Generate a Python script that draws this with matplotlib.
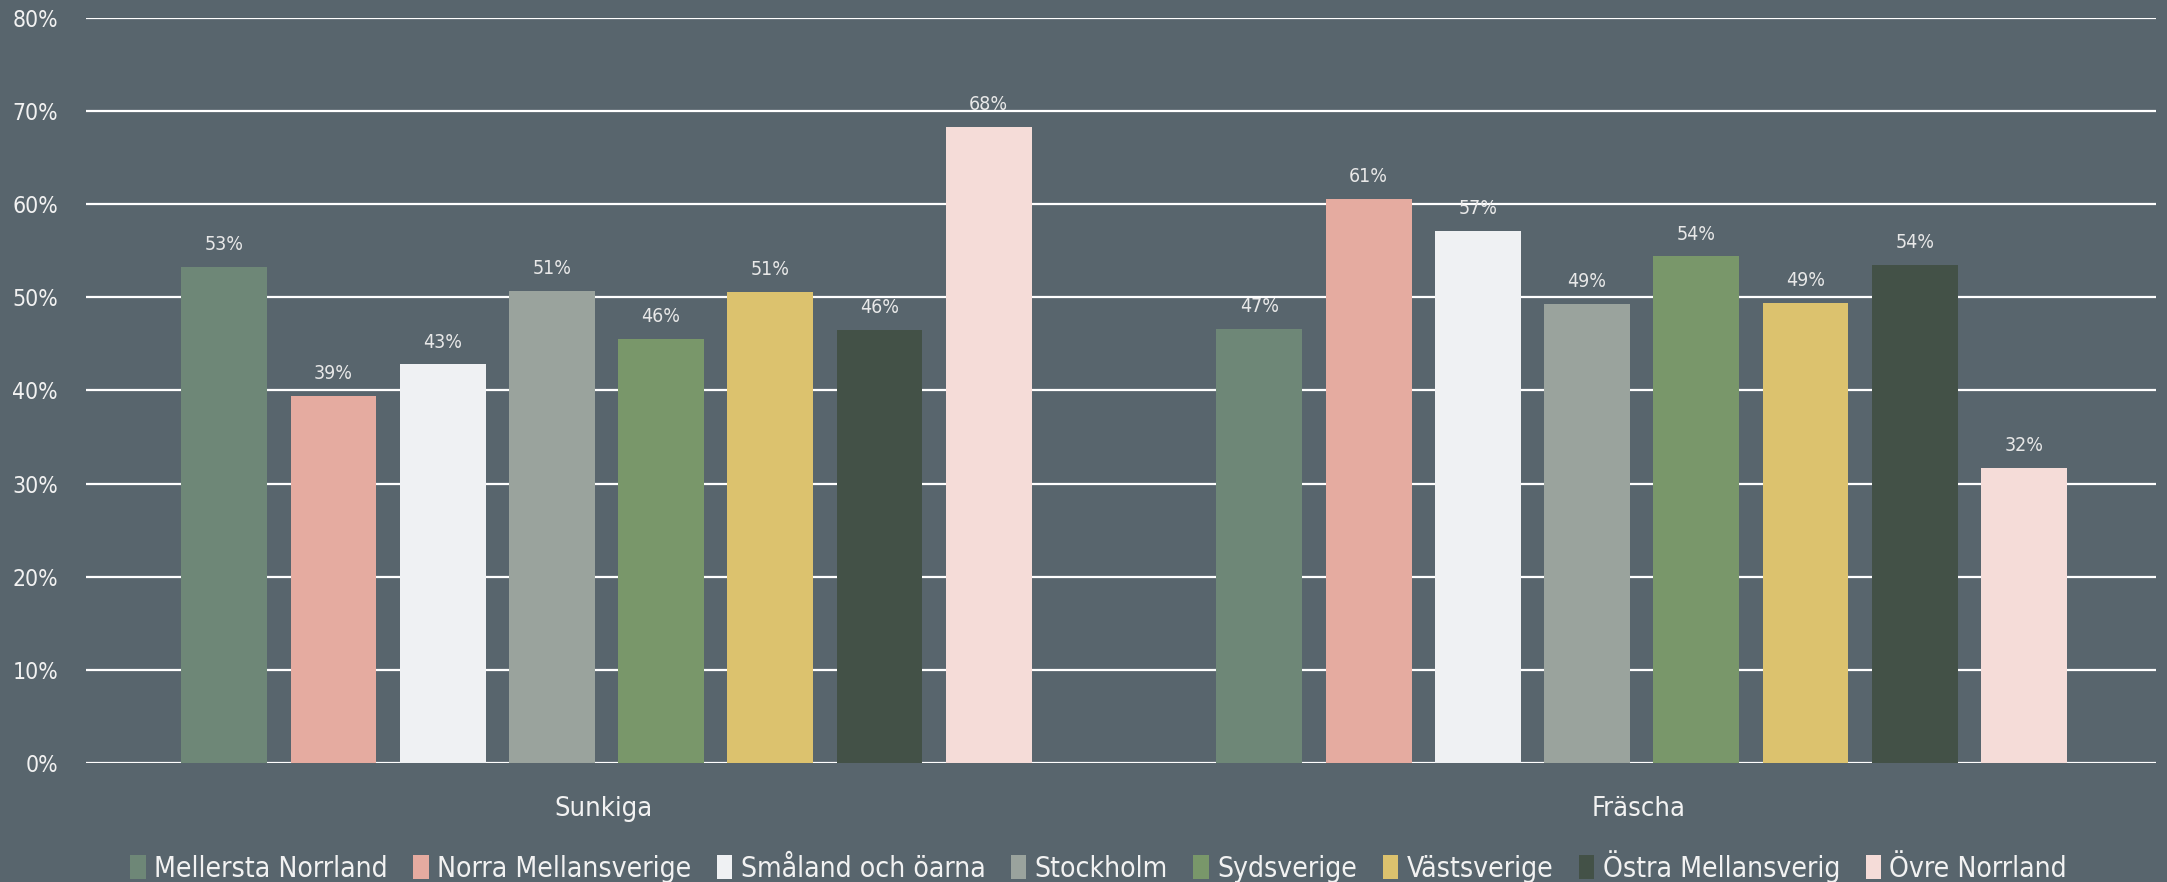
import matplotlib
matplotlib.use("Agg")
import matplotlib.pyplot as plt
import numpy as np

categories = ["Sunkiga", "Fräscha"]
regions = ["Mellersta Norrland", "Norra Mellansverige", "Småland och öarna", "Stockholm",
           "Sydsverige", "Västsverige", "Östra Mellansverig", "Övre Norrland"]
sunkiga = [53.3, 39.4, 42.8, 50.7, 45.5, 50.6, 46.5, 68.3]
frascha = [46.6, 60.6, 57.1, 49.3, 54.4, 49.4, 53.5, 31.7]
colors = ["#6E8777", "#E5ABA0", "#EFF1F3", "#9AA39D", "#79976A", "#DCC26E", "#435147", "#F5DCD8"]
yticks = [0, 10, 20, 30, 40, 50, 60, 70, 80]

bg = "#58656D"
txt = "#F2F2F2"
plt.rcParams['font.family'] = ['DejaVu Sans']
plt.rcParams['font.stretch'] = 'condensed'

fig = plt.figure(figsize=(21.67, 8.82), dpi=100, facecolor=bg)
ax = fig.add_axes([0.0396, 0.135, 0.9554, 0.8446])
ax.set_facecolor(bg)

values = np.array([sunkiga, frascha])
x = np.arange(len(categories))
pitch = 0.1055
width = 0.083
for i, reg in enumerate(regions):
    pos = x + 0.003 + (i - 3.5) * pitch
    bars = ax.bar(pos, values[:, i], width, color=colors[i], label=reg, zorder=3)
    for b, v in zip(bars, values[:, i]):
        ax.text(b.get_x() + b.get_width() / 2, v + 2.4, f"{v:.0f}%", ha='center', va='center',
                fontsize=14, color="#E8E8E8", zorder=4)

ax.set_xlim(-0.5, 1.5)
ax.set_ylim(0, 80)
ax.set_yticks(yticks)
ax.set_yticklabels([f"{t}%" for t in yticks], fontsize=16.5, color=txt)
ax.yaxis.grid(True, color="white", linewidth=1.6, zorder=0)
ax.set_xticks(x)
ax.set_xticklabels(categories, fontsize=19.5, color=txt)
ax.tick_params(axis='both', length=0)
ax.tick_params(axis='x', pad=24)
ax.tick_params(axis='y', pad=20)
for s in ax.spines.values():
    s.set_visible(False)

leg = fig.legend(loc='center', bbox_to_anchor=(0.507, 0.018), ncol=8, frameon=False,
                 fontsize=20.3, handlelength=0.55, handleheight=0.9, handletextpad=0.3,
                 columnspacing=0.9, labelcolor=txt)

fig.savefig("out.png", dpi=100, facecolor=bg)
